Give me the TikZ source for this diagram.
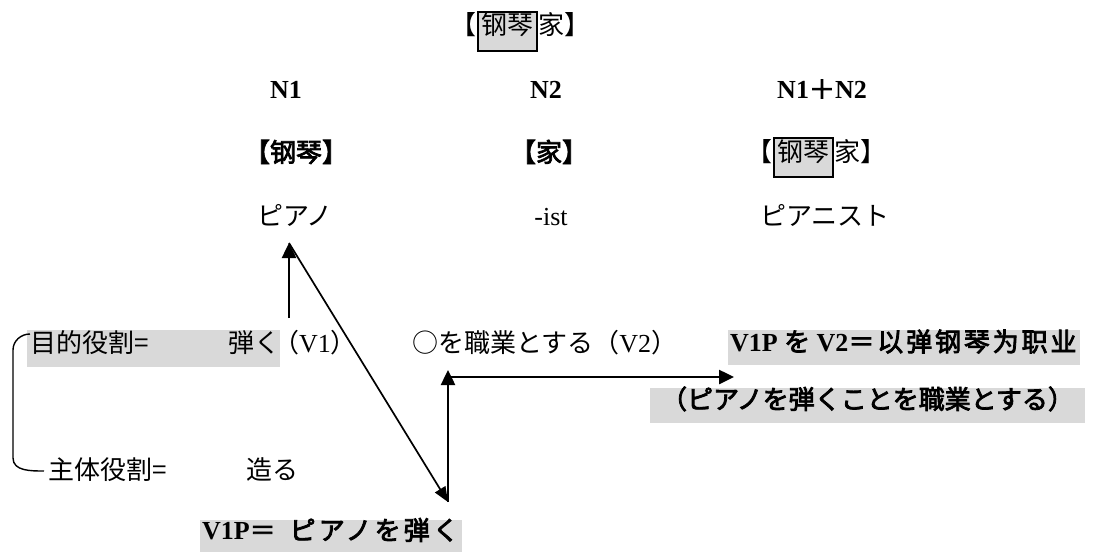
\documentclass[tikz,border=0pt]{standalone}
\usepackage{fontspec}
\setmainfont{Liberation Serif}
\newfontfamily\jpfont{Noto Sans CJK JP}[BoldFont={Noto Sans CJK JP},BoldFeatures={FakeBold=3}]
\newfontfamily\cnfont{Noto Sans CJK SC}[BoldFont={Noto Sans CJK SC},BoldFeatures={FakeBold=3}]
\usetikzlibrary{arrows.meta}
\definecolor{boxgray}{HTML}{D9D9D9}
\begin{document}
\begin{tikzpicture}[x=1pt,y=-1pt,
  every node/.style={inner sep=0pt, text height=0.88em, text depth=0.12em, font=\fontsize{26}{30}\selectfont},
  gbox/.style={fill=boxgray},
  hlbox/.style={fill=boxgray, draw=black, line width=2pt, minimum width=59pt, minimum height=39pt},
  thickarrow/.style={line width=2.5pt, -{Triangle[length=15pt,width=14pt]}},
  thinarrow/.style={line width=1.7pt, -{Triangle[length=15pt,width=12pt]}},
  bracketline/.style={line width=1.4pt}
]
\useasboundingbox (0,0) rectangle (1094,552);

% title
\node[hlbox] (tb) at (507.5,31) {\cnfont 钢琴};
\node[anchor=east] (tl) at (tb.west) {\jpfont 【};
\node[anchor=west] (tr) at (tb.east) {\cnfont 家\jpfont 】};

% N row
\node (n1) at (286,95) {\bfseries N1};
\node (n2) at (546,95) {\bfseries N2};
\node (n12) at (822,95) {\bfseries N1{\cnfont ＋}N2};

% bracket row
\node (k1) at (296,158) {\bfseries\jpfont 【\cnfont 钢琴\jpfont 】};
\node (k2) at (549,158) {\bfseries\jpfont 【\cnfont 家\jpfont 】};
\node[hlbox] (kb) at (803.5,157.5) {\cnfont 钢琴};
\node[anchor=east] (kl) at (kb.west) {\jpfont 【};
\node[anchor=west] (kr) at (kb.east) {\cnfont 家\jpfont 】};

% Japanese row
\node (piano) at (295,222) {\jpfont ピアノ};
\node (ist) at (551,222) {-ist};
\node (pianist) at (825,222) {\jpfont ピアニスト};

% left block
\node[gbox, minimum width=253pt, minimum height=37pt] (mk) at (153.5,348.5) {};
\node[anchor=west] (mkl) at ([xshift=3pt]mk.west) {\jpfont 目的役割=};
\node[anchor=east] (mkr) at (mk.east) {\jpfont 弾く};
\node (v1) at (315,349) {\jpfont （{\rmfamily V1}）};
\node[anchor=west] (v2) at (412,349) {\jpfont ○を職業とする（{\rmfamily V2}）};

\node[anchor=west] (sh) at (48,476) {\jpfont 主体役割=};
\node[anchor=west] (tsu) at (246,476) {\jpfont 造る};

% right blocks
\node[gbox, minimum width=352pt, minimum height=35pt] (r1) at (904,347.5) {};
\node[anchor=west] (r1t) at ([xshift=2pt]r1.west) {\bfseries V1P {\jpfont を} V2{\cnfont\addfontfeatures{LetterSpace=11}＝以弹钢琴为职业}};
\node[gbox, minimum width=435pt, minimum height=35pt] (r2) at (867.5,405) {};
\node (r2t) at (r2) {\jpfont\bfseries （ピアノを弾くことを職業とする）};

% bottom block
\node[gbox, minimum width=262pt, minimum height=32pt] (b1) at (331,536) {};
\node[anchor=west] (b1t) at ([xshift=2pt]b1.west) {\bfseries V1P{\jpfont ＝\hspace{14pt}\addfontfeatures{LetterSpace=12}ピアノを弾く}};

% connectors
\coordinate (pa) at (289,243);
\coordinate (pb) at (289,318);
\coordinate (va) at (448,502);
\coordinate (vt) at (448,370);
\coordinate (ha) at (450,377);
\coordinate (ht) at (734,377);
\draw[thickarrow] (pb) -- (pa);
\draw[thinarrow] (pa) -- (va);
\draw[thickarrow] (va) -- (vt);
\draw[thickarrow] (ha) -- (ht);

% brace
\coordinate (bra) at (30,334);
\coordinate (brb) at (44,471);
\draw[bracketline] (bra) to[out=180,in=90] (13,350) -- (13,458) to[out=-90,in=180] (brb);
\end{tikzpicture}
\end{document}
